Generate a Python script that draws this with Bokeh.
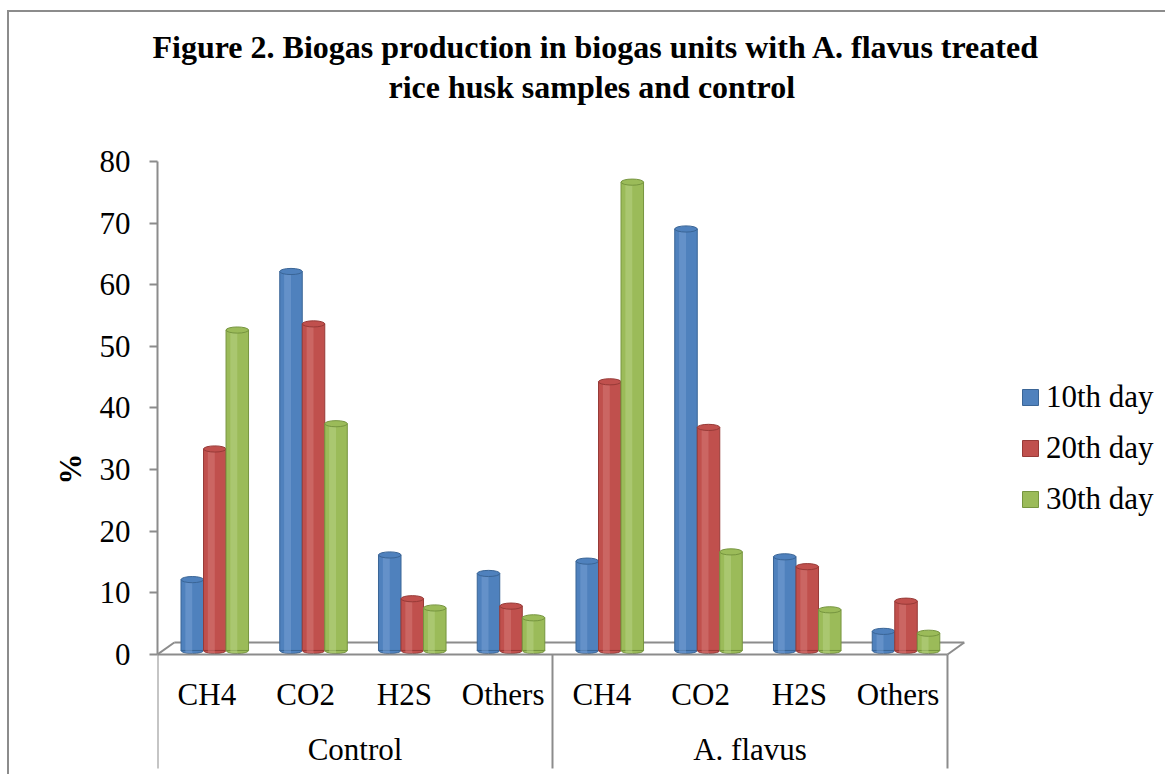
from bokeh.plotting import figure
from bokeh.models import Range1d, LinearAxis, FixedTicker, Legend, LegendItem, Title
from bokeh.embed import file_html
from bokeh.resources import INLINE

# ---- data ----
groups = ["Control", "A. flavus"]
gases = ["CH4", "CO2", "H2S", "Others"]
series = ["10th day", "20th day", "30th day"]
day10 = [11.5, 61.5, 15.5, 12.5, 14.5, 68.4, 15.2, 3.1]
day20 = [32.7, 53.0, 8.4, 7.2, 43.6, 36.2, 13.6, 8.0]
day30 = [52.0, 36.8, 6.9, 5.3, 76.0, 16.0, 6.6, 2.8]
y_ticks = [0, 10, 20, 30, 40, 50, 60, 70, 80]

values = [day10, day20, day30]
colors = ["#4F81BD", "#C0504D", "#9BBB59"]
edges = ["#3A6596", "#973A37", "#76953F"]
lights = ["#7EA5D6", "#DA817E", "#BDD68B"]
FONT = "Liberation Serif"
GRAY = "#8C8C8C"

categories = [(g, s) for g in groups for s in gases]
n = len(categories)
per_group = len(gases)

p = figure(width=1158, height=764, output_backend="svg", toolbar_location=None,
           x_range=Range1d(0, 10.228), y_range=Range1d(-19.8, y_ticks[-1]),
           x_axis_type=None, y_axis_type=None,
           min_border_left=148, min_border_right=0,
           min_border_top=149, min_border_bottom=0)
p.xgrid.visible = False
p.ygrid.visible = False
p.outline_line_color = None
p.styles = {"margin-left": "7px", "margin-top": "10px",
            "border-top": "2px solid #8C8C8C", "border-left": "2px solid #8C8C8C"}

# 3D floor (back edge and sides)
p.segment(x0=[0, 0.17, n], y0=[0, 1.95, 0], x1=[0.17, n + 0.17, n + 0.17], y1=[1.95, 1.95, 1.95],
          line_color=GRAY, line_width=2)

bw = 0.228
depth_x = 0.08   # 3D depth shift of the bars
depth_y = 0.65
renderers = []
for k, vals in enumerate(values):
    xs = [i + 0.5 + depth_x + (k - 1) * bw for i in range(n)]
    tops = [v + depth_y for v in vals]
    p.ellipse(x=xs, y=[depth_y] * n, width=bw, height=1.0, fill_color=colors[k],
              line_color=edges[k], line_width=1)
    r = p.vbar(x=xs, top=tops, bottom=depth_y, width=bw, fill_color=colors[k],
               line_color=edges[k], line_width=1)
    p.vbar(x=[x - 0.035 for x in xs], top=tops, bottom=depth_y - 0.45, width=0.07,
           fill_color=lights[k], fill_alpha=0.45, line_color=None)
    p.ellipse(x=xs, y=tops, width=bw, height=1.0, fill_color=colors[k],
              line_color=edges[k], line_width=1)
    renderers.append(r)

# front edge of floor and category separators
p.segment(x0=[0], y0=[0], x1=[n], y1=[0], line_color=GRAY, line_width=2)
sep_x = [0, per_group, n]
p.segment(x0=sep_x, y0=[0] * 3, x1=sep_x, y1=[-18.5] * 3, line_color=GRAY, line_width=2)

# category labels (two levels)
p.text(x=[i + 0.5 for i in range(n)], y=[-6.45] * n, text=[c[1] for c in categories],
       text_font=FONT, text_font_size="31px", text_color="black",
       text_align="center", text_baseline="middle")
p.text(x=[per_group * j + per_group / 2 for j in range(len(groups))], y=[-15.4] * len(groups),
       text=groups, text_font=FONT, text_font_size="31px", text_color="black",
       text_align="center", text_baseline="middle")

# y axis
yaxis = LinearAxis(ticker=FixedTicker(ticks=y_ticks, minor_ticks=[]), axis_label="%")
yaxis.bounds = (y_ticks[0], y_ticks[-1])
yaxis.axis_label_text_font = FONT
yaxis.axis_label_text_font_size = "31px"
yaxis.axis_label_text_font_style = "bold"
yaxis.axis_label_text_color = "black"
yaxis.axis_label_standoff = 9
yaxis.major_label_text_font = FONT
yaxis.major_label_text_font_size = "31px"
yaxis.major_label_text_color = "black"
yaxis.major_label_standoff = 19
yaxis.major_tick_out = 8
yaxis.major_tick_in = 0
yaxis.minor_tick_out = 0
yaxis.axis_line_color = GRAY
yaxis.axis_line_width = 2
yaxis.major_tick_line_color = GRAY
yaxis.major_tick_line_width = 2
p.add_layout(yaxis, "left")

legend = Legend(items=[LegendItem(label=s, renderers=[r]) for s, r in zip(series, renderers)],
                location=(863, 259), orientation="vertical",
                border_line_color=None, background_fill_alpha=0,
                label_text_font=FONT, label_text_font_size="31px", label_text_color="black",
                glyph_width=20, glyph_height=20, label_standoff=6, spacing=15,
                padding=0, margin=0, label_height=36)
p.add_layout(legend)

spacer = Title(text=" ", text_font_size="12px", standoff=40)
t2 = Title(text="rice husk samples and control", align="left", offset=231,
           text_font=FONT, text_font_size="32px", text_font_style="bold",
           text_color="black", standoff=2)
t1 = Title(text="Figure 2. Biogas production in biogas units with A. flavus treated",
           align="left", offset=-5, text_font=FONT, text_font_size="32px",
           text_font_style="bold", text_color="black", standoff=2)
p.add_layout(spacer, "above")
p.add_layout(t2, "above")
p.add_layout(t1, "above")

open("out.html", "w").write(file_html(p, INLINE))
